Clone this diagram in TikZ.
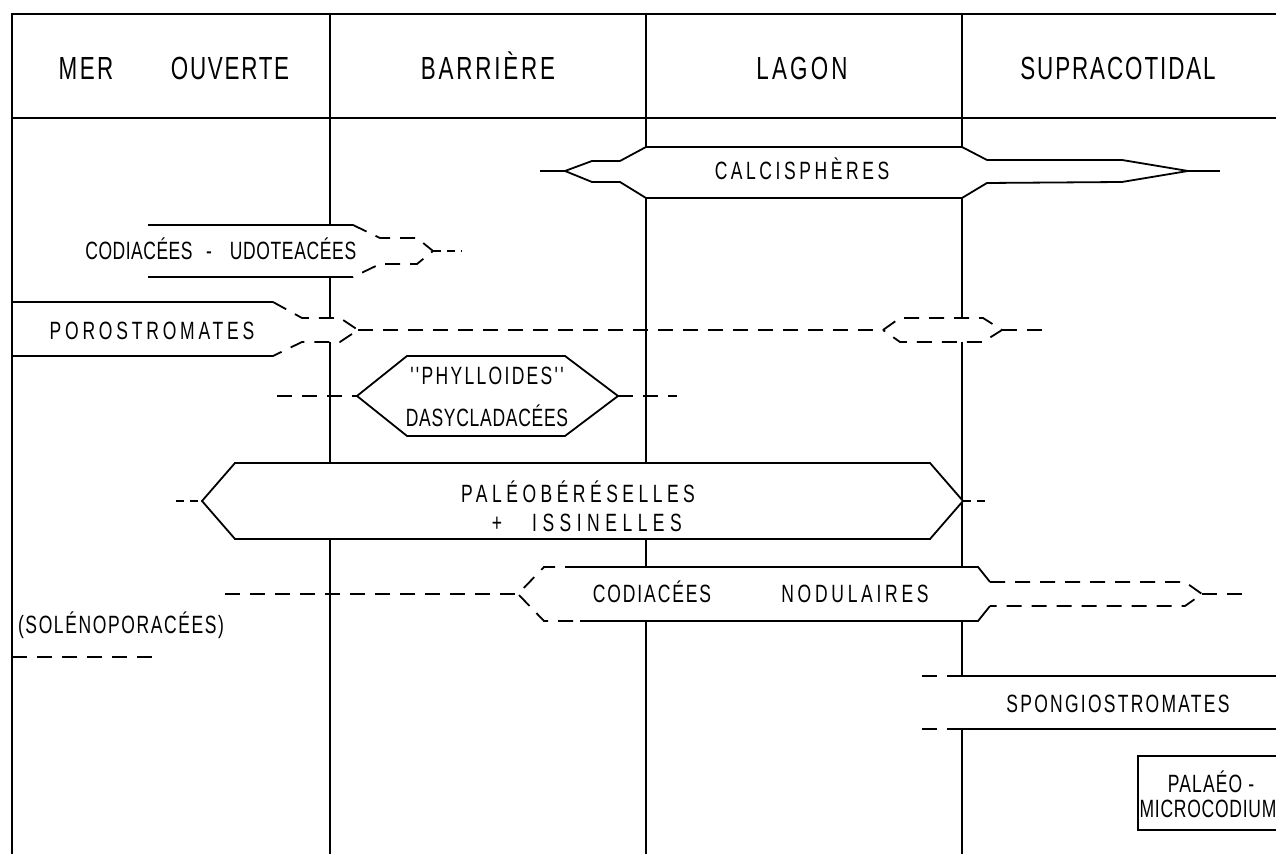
\documentclass[tikz,border=0pt]{standalone}
\usepackage{fontspec}
\newfontfamily\chartfont{Liberation Sans}[FakeStretch=0.7]
\newcommand{\trk}[2]{{\addfontfeature{LetterSpace=#1}#2}}

\begin{document}
\begin{tikzpicture}[
  x=0.5pt, y=-0.5pt,
  hdr/.style={font=\chartfont\fontsize{16}{18}\selectfont, inner sep=0pt, anchor=base},
  lbl/.style={font=\chartfont\fontsize{12.5}{15}\selectfont, inner sep=0pt, anchor=base},
  rule/.style={line width=0.9pt},
  band/.style={rule, fill=white, line join=miter},
  trail/.style={rule, dash pattern=on 7.5pt off 5pt},
  stub/.style={rule, dash pattern=on 4pt off 3pt},
  blank/.style={fill=white}
]
\useasboundingbox (0,0) rectangle (1276,854);

%% ---- frame and zone columns ----
\draw[rule] (12,854) -- (12,14) -- (1290,14);
\draw[rule] (12,118) -- (1290,118);
\foreach \x in {330,646,962}
  \draw[rule] (\x,14) -- (\x,854);

%% ---- zone headings ----
\node[hdr] (mer)   at (86,80)   {\trk{7.5}{MER}};
\node[hdr] (ouv)   at (230,80)  {\trk{5.4}{OUVERTE}};
\node[hdr] (barr)  at (488,80)  {\trk{8.8}{BARRIÈRE}};
\node[hdr] (lagon) at (802,80)  {\trk{10}{LAGON}};
\node[hdr] (supra) at (1118,80) {\trk{6}{SUPRACOTIDAL}};

%% ---- calcispheres ----
\draw[band] (565,171) -- (592,161) -- (620,161) -- (646,147) -- (962,147)
  -- (987,160) -- (1122,160) -- (1188,171) -- (1122,182) -- (987,183)
  -- (962,198) -- (646,198) -- (620,182) -- (592,182) -- cycle;
\draw[rule] (540,171) -- (565,171) (1188,171) -- (1220,171);
\node[lbl] (calci) at (802,180) {\trk{14.3}{CALCISPHÈRES}};

%% ---- codiacees - udoteacees ----
\fill[blank] (148,225) -- (353,225) -- (380,238) -- (417,238) -- (433,251)
  -- (417,264) -- (380,264) -- (353,277) -- (148,277) -- cycle;
\draw[rule] (148,225) -- (353,225) (148,277) -- (353,277);
\draw[trail] (353,225) -- (380,238) -- (417,238) -- (433,251) -- (417,264)
  -- (380,264) -- (353,277);
\draw[stub] (433,251) -- (462,251);
\node[lbl] (codia) at (139,260) {\trk{2}{CODIACÉES}};
\node[lbl] (codsep) at (209,260) {-};
\node[lbl] (udot) at (293,260) {\trk{2.6}{UDOTEACÉES}};

%% ---- porostromates ----
\fill[blank] (13,302) -- (273,302) -- (302,318) -- (340,318) -- (358,330)
  -- (340,342) -- (302,342) -- (273,356) -- (13,356) -- cycle;
\draw[rule] (12,302) -- (273,302) (12,356) -- (273,356);
\draw[trail] (273,302) -- (302,318) -- (340,318) -- (358,330) -- (340,342)
  -- (302,342) -- (273,356);
\draw[trail] (358,330) -- (883,330);
\draw[trail, fill=white] (883,330) -- (900,318) -- (983,318) -- (1002,330)
  -- (983,342) -- (900,342) -- cycle;
\draw[trail] (1002,330) -- (1043,330);
\node[lbl] (poro) at (152,340) {\trk{15.2}{POROSTROMATES}};

%% ---- phylloides ----
\draw[band] (357,396) -- (407,356) -- (565,356) -- (618,396) -- (565,436)
  -- (407,436) -- cycle;
\draw[trail] (277,396) -- (357,396) (618,396) -- (677,396);
\node[lbl] (phyl) at (487,385) {\trk{9.3}{''PHYLLOIDES''}};
\node[lbl] (dasy) at (487,427) {\trk{2.9}{DASYCLADACÉES}};

%% ---- paleobereselles + issinelles ----
\draw[band] (202,501) -- (235,463) -- (930,463) -- (963,501) -- (930,539)
  -- (235,539) -- cycle;
\draw[stub] (176,501) -- (202,501) (963,501) -- (990,501);
\node[lbl] (paleo) at (578,503) {\trk{18}{PALÉOBÉRÉSELLES}};
\node[lbl] (plus) at (497,532) {+};
\node[lbl] (issi) at (607,532) {\trk{22}{ISSINELLES}};

%% ---- codiacees nodulaires ----
\fill[blank] (518,594) -- (544,567) -- (978,567) -- (990,582) -- (1185,582)
  -- (1202,594) -- (1185,606) -- (990,606) -- (978,621) -- (544,621) -- cycle;
\draw[rule] (580,567) -- (978,567) -- (990,582) (580,621) -- (978,621) -- (990,606);
\draw[trail] (580,567) -- (544,567) -- (518,594) -- (544,621) -- (580,621);
\draw[trail] (990,582) -- (1185,582) -- (1202,594) -- (1185,606) -- (990,606);
\draw[trail] (225,594) -- (518,594) (1202,594) -- (1252,594);
\node[lbl] (codnod) at (652,603) {\trk{7.5}{CODIACÉES}};
\node[lbl] (nodul) at (855,603) {\trk{14.9}{NODULAIRES}};

%% ---- solenoporacees ----
\node[lbl] (soleno) at (121,634) {\trk{6.4}{(SOLÉNOPORACÉES)}};
\draw[trail] (12,657) -- (154,657);

%% ---- spongiostromates ----
\fill[blank] (922,676) rectangle (1290,729);
\draw[trail] (922,676) -- (955,676) (922,729) -- (955,729);
\draw[rule] (955,676) -- (1290,676) (955,729) -- (1290,729);
\node[lbl] (spongio) at (1118,713) {\trk{9}{SPONGIOSTROMATES}};

%% ---- palaeo-microcodium ----
\draw[band] (1138,756) rectangle (1290,830);
\node[lbl] (palaeo) at (1211,793) {\trk{4.6}{PALAÉO -}};
\node[lbl] (micro) at (1208,818) {\trk{3}{MICROCODIUM}};

\end{tikzpicture}
\end{document}
